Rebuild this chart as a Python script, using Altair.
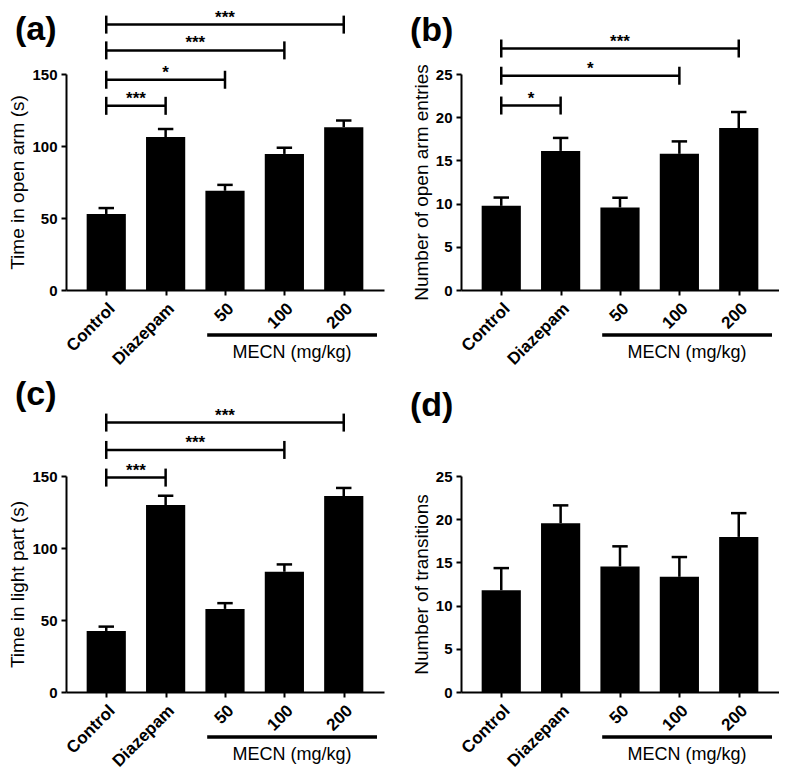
import altair as alt
import pandas as pd

# ---------------- data ----------------
groups = ["Control", "Diazepam", "50", "100", "200"]
positions = [0, 1, 2, 3, 4]

a_mean = [52.8, 106.2, 68.9, 94.5, 113.1]
a_upper = [56.9, 111.8, 73.0, 98.8, 117.7]
b_mean = [9.74, 16.1, 9.55, 15.76, 18.75]
b_upper = [10.7, 17.6, 10.68, 17.2, 20.6]
c_mean = [42.4, 129.8, 57.7, 83.5, 136.1]
c_upper = [45.4, 136.3, 61.7, 88.6, 141.7]
d_mean = [11.78, 19.53, 14.53, 13.33, 17.95]
d_upper = [14.34, 21.6, 16.86, 15.62, 20.7]

# significance brackets: all start at Control (position 0)
a_br_to = [1, 2, 3, 4]
a_br_level = [127.9, 146.0, 166.4, 184.3]
a_br_label = ["***", "*", "***", "***"]
b_br_to = [1, 3, 4]
b_br_level = [21.35, 24.8, 27.95]
b_br_label = ["*", "*", "***"]
c_br_to = [1, 3, 4]
c_br_level = [148.9, 168.1, 187.1]
c_br_label = ["***", "***", "***"]

# ---------------- layout / style ----------------
W, H = 318, 216
X_DOMAIN = [-0.678, 4.678]
HALF = 0.33       # half bar width (in category units)
CAP = 0.13        # half cap width
MECN_FROM, MECN_TO = 1.7, 4.56
FONT = "Liberation Sans"

label_expr = "[" + ",".join("'%s'" % g for g in groups) + "][datum.value]"


def panel(mean, upper, ymax, ystep, ytitle, tag, tag_y,
          br_to=None, br_level=None, br_label=None):
    df = pd.DataFrame({"pos": positions, "group": groups,
                       "mean": mean, "upper": upper})
    xs = alt.Scale(domain=X_DOMAIN, nice=False, zero=False)
    ys = alt.Scale(domain=[0, ymax], nice=False)
    xaxis = alt.Axis(values=positions, labelExpr=label_expr, labelAngle=-45,
                     title=None, grid=False, labelFontSize=17,
                     labelFontWeight="bold", labelPadding=5,
                     labelOverlap=False, labelBound=False)
    yaxis = alt.Axis(values=list(range(0, ymax + 1, ystep)), title=ytitle,
                     grid=False, labelFontSize=15, labelFontWeight="bold",
                     titleFontSize=19, titleFontWeight="normal",
                     titlePadding=4, labelPadding=4)

    base = alt.Chart(df)
    bars = base.transform_calculate(
        x1="datum.pos - %f" % HALF, x2="datum.pos + %f" % HALF
    ).mark_bar(color="black").encode(
        x=alt.X("x1:Q", scale=xs, axis=xaxis),
        x2="x2:Q",
        y=alt.Y("mean:Q", scale=ys, axis=yaxis),
        y2=alt.datum(0),
    )
    err = base.mark_rule(color="black", strokeWidth=2.5).encode(
        x="pos:Q", y="mean:Q", y2="upper:Q")
    cap = base.transform_calculate(
        c1="datum.pos - %f" % CAP, c2="datum.pos + %f" % CAP
    ).mark_rule(color="black", strokeWidth=2.5).encode(
        x="c1:Q", x2="c2:Q", y="upper:Q")

    layers = [bars, err, cap]

    if br_to:
        bdf = pd.DataFrame({"from": [0] * len(br_to), "to": br_to,
                            "level": br_level, "label": br_label})
        bdf["mid"] = (bdf["from"] + bdf["to"]) / 2
        ends = pd.DataFrame({
            "p": [0] * len(br_to) + list(br_to),
            "level": list(br_level) * 2,
        })
        bl = alt.Chart(bdf).mark_rule(color="black", strokeWidth=2.5).encode(
            x="from:Q", x2="to:Q", y="level:Q")
        be = alt.Chart(ends).mark_rule(color="black", strokeWidth=2.5,
                                       yOffset=-9, y2Offset=9).encode(
            x="p:Q", y="level:Q", y2="level:Q")
        bt = alt.Chart(bdf).mark_text(fontSize=17, fontWeight="bold",
                                      baseline="alphabetic", dy=-2,
                                      font=FONT, color="black").encode(
            x="mid:Q", y="level:Q", text="label:N")
        layers += [bl, be, bt]

    mdf = pd.DataFrame({"x1": [MECN_FROM], "x2": [MECN_TO],
                        "mid": [(MECN_FROM + MECN_TO) / 2],
                        "t": ["MECN (mg/kg)"]})
    mline = alt.Chart(mdf).mark_rule(color="black", strokeWidth=3.5).encode(
        x="x1:Q", x2="x2:Q", y=alt.value(H + 45))
    mtext = alt.Chart(mdf).mark_text(fontSize=18, font=FONT, color="black",
                                     baseline="middle").encode(
        x="mid:Q", y=alt.value(H + 63), text="t:N")
    tdf = pd.DataFrame({"t": [tag]})
    ttext = alt.Chart(tdf).mark_text(fontSize=34, fontWeight="bold",
                                     font=FONT, color="black", align="left",
                                     baseline="top").encode(
        x=alt.value(-51), y=alt.value(tag_y), text="t:N")
    layers += [mline, mtext, ttext]

    return alt.layer(*layers).properties(width=W, height=H)


pa = panel(a_mean, a_upper, 150, 50, "Time in open arm (s)", "(a)", -61,
           a_br_to, a_br_level, a_br_label)
pb = panel(b_mean, b_upper, 25, 5, "Number of open arm entries", "(b)", -60,
           b_br_to, b_br_level, b_br_label)
pc = panel(c_mean, c_upper, 150, 50, "Time in light part (s)", "(c)", -98,
           c_br_to, c_br_level, c_br_label)
pd_ = panel(d_mean, d_upper, 25, 5, "Number of transitions", "(d)", -87)

row1 = alt.hconcat(pa, pb, spacing=26)
row2 = alt.hconcat(pc, pd_, spacing=26)
chart = alt.vconcat(row1, row2, spacing=10).properties(
    padding={"left": 0, "top": 0, "right": 0, "bottom": 0}
).configure_view(stroke=None).configure_axis(
    domainColor="black", domainWidth=2, tickColor="black", tickWidth=2,
    tickSize=5, labelColor="black", titleColor="black",
    labelFont=FONT, titleFont=FONT
).configure_text(font=FONT)

chart.save("out.html", embed_options={"renderer": "svg", "actions": False})
